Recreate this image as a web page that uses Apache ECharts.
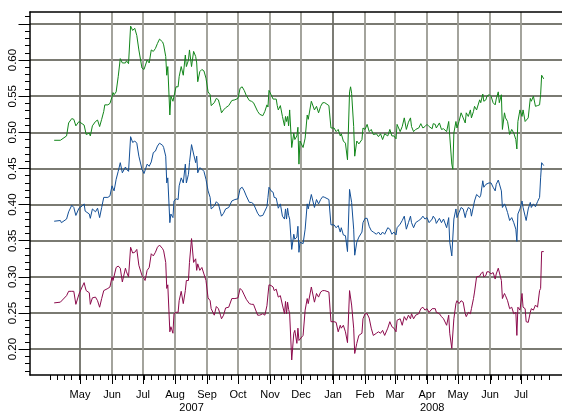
<!DOCTYPE html>
<html><head><meta charset="utf-8">
<script src="https://cdn.jsdelivr.net/npm/echarts@6.0.0/dist/echarts.min.js"></script>
<style>html,body{margin:0;padding:0;background:#fff}#c{width:562px;height:413px}</style>
</head><body><div id="c"></div>
<script>
// calendar days after 1 May 2007
const tradeDay = [-25,-19,-18,-13,-11,-8,-6,-4,-1,2,4,5,6,9,10,12,15,17,19,21,23,24,27,29,31,32,33,35,37,39,41,44,45,47,49,51,53,55,57,60,62,63,65,67,69,71,73,75,77,80,81,83,84,85,87,88,90,91,93,95,96,98,100,102,103,105,106,108,110,112,113,114,116,118,120,122,124,126,127,130,132,134,136,137,139,141,144,145,147,150,153,155,157,159,161,164,166,168,172,174,177,179,181,182,183,185,187,188,190,191,192,194,196,198,199,200,201,202,203,205,207,208,210,211,212,213,216,218,220,221,224,227,229,231,233,235,237,241,243,246,248,250,252,253,255,257,259,261,262,263,265,266,268,270,273,274,276,278,280,282,284,287,289,291,293,295,298,300,302,304,306,307,310,312,314,316,318,320,321,323,325,328,330,332,334,336,338,341,342,344,345,348,350,352,355,357,358,360,361,362,364,365,367,369,371,373,374,376,378,379,381,382,384,387,388,390,391,393,394,396,398,400,402,403,405,406,408,409,411,412,414,416,418,420,422,423,424,426,428,429,431,432,434,436,437,439,441,443,445,446,447,449];
const green = [0.489,0.489,0.487,0.495,0.513,0.519,0.518,0.509,0.515,0.512,0.510,0.509,0.497,0.499,0.495,0.509,0.515,0.517,0.508,0.518,0.529,0.538,0.538,0.540,0.549,0.555,0.552,0.556,0.577,0.602,0.596,0.596,0.599,0.595,0.647,0.641,0.644,0.634,0.614,0.589,0.587,0.586,0.600,0.596,0.614,0.612,0.616,0.623,0.629,0.625,0.621,0.605,0.579,0.591,0.524,0.550,0.543,0.545,0.563,0.563,0.577,0.591,0.579,0.607,0.591,0.600,0.614,0.591,0.612,0.605,0.596,0.570,0.584,0.587,0.585,0.575,0.556,0.552,0.537,0.541,0.547,0.545,0.534,0.527,0.531,0.534,0.537,0.535,0.544,0.545,0.547,0.561,0.563,0.558,0.551,0.544,0.543,0.541,0.529,0.525,0.523,0.529,0.538,0.535,0.558,0.552,0.546,0.545,0.546,0.537,0.531,0.537,0.522,0.509,0.522,0.515,0.522,0.509,0.531,0.479,0.499,0.490,0.495,0.507,0.456,0.488,0.479,0.492,0.524,0.518,0.543,0.531,0.536,0.527,0.536,0.541,0.541,0.537,0.506,0.506,0.501,0.504,0.495,0.498,0.488,0.485,0.462,0.556,0.563,0.554,0.508,0.467,0.488,0.484,0.490,0.506,0.504,0.511,0.501,0.504,0.497,0.498,0.494,0.498,0.490,0.498,0.495,0.504,0.495,0.495,0.491,0.511,0.501,0.508,0.520,0.504,0.514,0.520,0.508,0.501,0.504,0.506,0.512,0.506,0.508,0.511,0.508,0.505,0.512,0.511,0.506,0.513,0.504,0.505,0.501,0.515,0.495,0.456,0.449,0.499,0.515,0.506,0.515,0.527,0.520,0.513,0.527,0.522,0.531,0.520,0.529,0.536,0.531,0.545,0.541,0.553,0.543,0.545,0.550,0.552,0.550,0.541,0.538,0.546,0.556,0.541,0.552,0.504,0.527,0.520,0.515,0.497,0.504,0.499,0.490,0.477,0.515,0.531,0.522,0.531,0.515,0.516,0.520,0.547,0.543,0.550,0.536,0.537,0.538,0.552,0.579,0.574];
const blue = [0.377,0.378,0.375,0.380,0.390,0.399,0.396,0.385,0.395,0.398,0.401,0.391,0.390,0.387,0.381,0.394,0.390,0.395,0.382,0.396,0.410,0.412,0.410,0.412,0.426,0.428,0.419,0.435,0.446,0.458,0.444,0.452,0.449,0.446,0.494,0.486,0.488,0.485,0.467,0.449,0.443,0.442,0.456,0.453,0.459,0.472,0.474,0.481,0.485,0.482,0.479,0.467,0.430,0.437,0.375,0.387,0.382,0.405,0.408,0.407,0.426,0.437,0.430,0.456,0.430,0.442,0.458,0.483,0.470,0.458,0.467,0.444,0.451,0.449,0.446,0.435,0.419,0.410,0.394,0.398,0.404,0.401,0.390,0.384,0.388,0.394,0.396,0.395,0.405,0.407,0.408,0.422,0.424,0.419,0.412,0.403,0.403,0.401,0.388,0.384,0.385,0.391,0.397,0.410,0.424,0.419,0.417,0.410,0.409,0.407,0.395,0.401,0.384,0.380,0.394,0.380,0.395,0.385,0.380,0.338,0.359,0.352,0.355,0.370,0.334,0.348,0.346,0.366,0.401,0.394,0.414,0.396,0.407,0.401,0.407,0.411,0.410,0.407,0.372,0.372,0.368,0.371,0.362,0.368,0.358,0.357,0.335,0.421,0.419,0.403,0.366,0.330,0.348,0.355,0.362,0.375,0.381,0.381,0.370,0.364,0.362,0.359,0.362,0.358,0.362,0.359,0.368,0.366,0.359,0.362,0.358,0.368,0.373,0.378,0.384,0.366,0.375,0.384,0.375,0.368,0.375,0.378,0.380,0.384,0.380,0.382,0.375,0.380,0.384,0.380,0.374,0.381,0.375,0.380,0.368,0.382,0.348,0.329,0.331,0.380,0.394,0.382,0.389,0.396,0.394,0.382,0.389,0.396,0.394,0.384,0.398,0.405,0.414,0.410,0.413,0.433,0.424,0.428,0.426,0.430,0.430,0.424,0.419,0.428,0.434,0.434,0.419,0.396,0.401,0.398,0.389,0.378,0.382,0.375,0.366,0.349,0.387,0.394,0.405,0.396,0.384,0.378,0.394,0.403,0.396,0.401,0.397,0.404,0.410,0.437,0.458,0.454];
const maroon = [0.264,0.265,0.264,0.274,0.280,0.280,0.280,0.262,0.276,0.286,0.292,0.286,0.281,0.278,0.262,0.271,0.272,0.267,0.258,0.270,0.281,0.283,0.284,0.286,0.300,0.295,0.297,0.313,0.315,0.312,0.293,0.312,0.307,0.300,0.341,0.333,0.334,0.338,0.316,0.302,0.298,0.295,0.309,0.313,0.332,0.329,0.334,0.341,0.344,0.339,0.336,0.320,0.284,0.289,0.224,0.231,0.222,0.249,0.251,0.251,0.267,0.280,0.263,0.281,0.295,0.295,0.320,0.353,0.320,0.325,0.309,0.318,0.309,0.313,0.304,0.295,0.271,0.267,0.256,0.247,0.259,0.256,0.247,0.242,0.247,0.257,0.258,0.258,0.270,0.270,0.271,0.284,0.281,0.275,0.269,0.263,0.262,0.262,0.247,0.247,0.249,0.247,0.260,0.275,0.289,0.288,0.286,0.281,0.283,0.283,0.272,0.274,0.261,0.249,0.266,0.249,0.265,0.255,0.249,0.185,0.222,0.226,0.208,0.229,0.212,0.212,0.219,0.254,0.270,0.263,0.286,0.265,0.277,0.272,0.279,0.281,0.281,0.279,0.238,0.238,0.237,0.224,0.233,0.229,0.233,0.224,0.209,0.281,0.279,0.261,0.229,0.194,0.208,0.219,0.222,0.242,0.249,0.249,0.243,0.229,0.219,0.222,0.224,0.222,0.226,0.219,0.229,0.238,0.231,0.229,0.224,0.240,0.242,0.233,0.245,0.240,0.247,0.242,0.249,0.242,0.247,0.249,0.256,0.258,0.254,0.256,0.251,0.256,0.254,0.256,0.251,0.249,0.245,0.242,0.233,0.247,0.222,0.201,0.203,0.242,0.263,0.267,0.263,0.267,0.265,0.249,0.245,0.251,0.249,0.256,0.270,0.279,0.300,0.301,0.304,0.307,0.300,0.302,0.307,0.307,0.304,0.306,0.297,0.304,0.312,0.312,0.295,0.270,0.277,0.274,0.267,0.256,0.258,0.249,0.251,0.219,0.258,0.254,0.277,0.258,0.256,0.238,0.237,0.251,0.256,0.254,0.261,0.258,0.281,0.284,0.335,0.335];

const monthTicks = ['2007-05-01','2007-06-01','2007-07-01','2007-08-01','2007-09-01','2007-10-01','2007-11-01','2007-12-01','2008-01-01','2008-02-01','2008-03-01','2008-04-01','2008-05-01','2008-06-01','2008-07-01'];
const monthNames = ['Jan','Feb','Mar','Apr','May','Jun','Jul','Aug','Sep','Oct','Nov','Dec'];
const yearLabelAt = ['2007-08-17','2008-04-06'];
const yMajor = [0.20,0.25,0.30,0.35,0.40,0.45,0.50,0.55,0.60,0.65];
const yLabelled = [0.20,0.25,0.30,0.35,0.40,0.45,0.50,0.55,0.60];

const DAY = 864e5;
const base = Date.UTC(2007,4,1);
const ts = s => Date.parse(s + 'T00:00:00Z');
const xMin = base - 48.41*DAY, xMax = base + 466.7*DAY;
const yMin = 0.16422, yMax = 0.66651;

const weekTicks = [];
for (let t = ts('2007-04-02'); t <= ts('2008-07-28'); t += 7*DAY) weekTicks.push(t);
const yMinor = [];
for (let i = 17; i <= 66; i++) if (i % 5) yMinor.push(i/100);

const mk = arr => tradeDay.map((d,i) => [base + d*DAY, arr[i]]);
const font = 'Liberation Sans, Arial, Helvetica, sans-serif';
const monthTs = monthTicks.map(ts);
const vColors = monthTicks.map(m => m === '2007-05-01' || m.endsWith('-01-01') ? '#6e6e66' : '#9a9a92');

const chart = echarts.init(document.getElementById('c'), null, {renderer:'canvas'});
chart.setOption({
  animation: false,
  backgroundColor: '#fff',
  grid: {left: 30, right: 0, top: 12, bottom: 36.3, containLabel: false},
  xAxis: [
    {type:'value', min:xMin, max:xMax, position:'bottom',
     axisLine:{show:true, onZero:false, lineStyle:{color:'#000', width:1.5}},
     axisTick:{show:true, customValues: monthTs, length:9, lineStyle:{color:'#000', width:1}},
     axisLabel:{show:true, customValues: monthTs, margin:14, fontSize:11, color:'#000', fontFamily:font,
       formatter: v => monthNames[new Date(v).getUTCMonth()]},
     splitLine:{show:true, lineStyle:{color:vColors, width:1.8}}},
    {type:'value', min:xMin, max:xMax, position:'bottom',
     axisLine:{show:false, onZero:false},
     axisTick:{show:true, customValues: weekTicks, length:5, lineStyle:{color:'#000', width:1}},
     axisLabel:{show:false}, splitLine:{show:false}},
    {type:'value', min:xMin, max:xMax, position:'bottom',
     axisLine:{show:false, onZero:false}, axisTick:{show:false},
     axisLabel:{show:true, customValues: yearLabelAt.map(ts), margin:27, fontSize:11, color:'#000', fontFamily:font,
       formatter: v => String(new Date(v).getUTCFullYear())},
     splitLine:{show:false}},
    {type:'value', min:xMin, max:xMax, position:'top',
     axisLine:{show:true, onZero:false, lineStyle:{color:'#000', width:1.5}},
     axisTick:{show:false}, axisLabel:{show:false}, splitLine:{show:false}}
  ],
  yAxis: [
    {type:'value', min:yMin, max:yMax, position:'left',
     axisLine:{show:true, onZero:false, lineStyle:{color:'#000', width:1.5}},
     axisTick:{show:true, customValues: yMajor, length:11.5, lineStyle:{color:'#000', width:1}},
     axisLabel:{show:true, customValues: yLabelled, rotate:90, margin:11, fontSize:11.5, color:'#000', fontFamily:font,
       formatter: v => v.toFixed(2)},
     splitLine:{show:true, lineStyle:{color:'#7a7a72', width:1.8}}},
    {type:'value', min:yMin, max:yMax, position:'left',
     axisLine:{show:false, onZero:false},
     axisTick:{show:true, customValues: yMinor, length:5, lineStyle:{color:'#000', width:1}},
     axisLabel:{show:false}, splitLine:{show:false}}
  ],
  series: [
    {name:'top', type:'line', data: mk(green), showSymbol:false, lineStyle:{color:'#12861a', width:1}, itemStyle:{color:'#12861a'}},
    {name:'middle', type:'line', data: mk(blue), showSymbol:false, lineStyle:{color:'#134f96', width:1}, itemStyle:{color:'#134f96'}},
    {name:'bottom', type:'line', data: mk(maroon), showSymbol:false, lineStyle:{color:'#8c0a4c', width:1}, itemStyle:{color:'#8c0a4c'}}
  ]
});
</script></body></html>
